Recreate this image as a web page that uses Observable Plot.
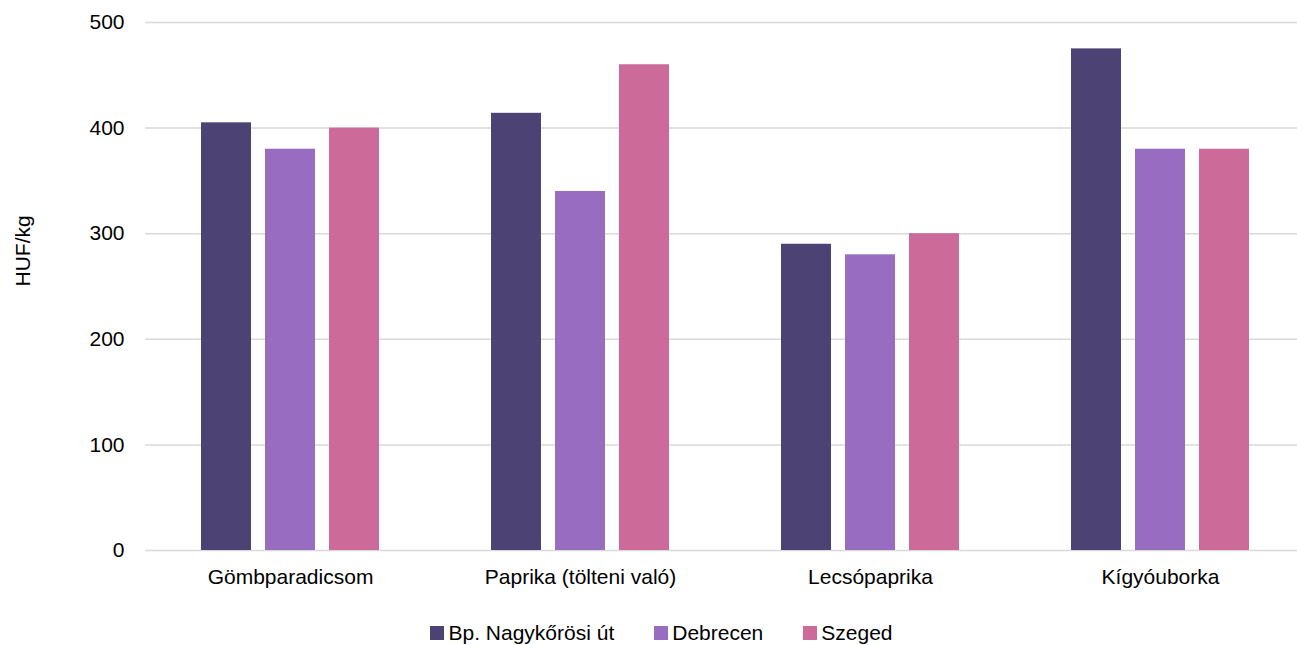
<!DOCTYPE html>
<html><head><meta charset="utf-8">
<script src="https://cdn.jsdelivr.net/npm/d3@7"></script>
<script src="https://cdn.jsdelivr.net/npm/@observablehq/plot@0.6"></script>
<style>
body{margin:0;background:#fff;font-family:"Liberation Sans",Arial,sans-serif;overflow:hidden;}
#chart{width:1297px;overflow:hidden;}
#chart svg{max-width:none !important;display:block;}
#legend{display:flex;justify-content:center;font-size:21px;color:#000;margin-top:21px;padding-left:26px;line-height:24px}
#legend span.item{display:flex;align-items:center;margin:0 20px}
#legend span.sw{display:inline-block;width:14px;height:14px;margin-right:4px}
</style>
</head><body>
<div id="chart"></div>
<div id="legend"></div>
<script>
const categories = ["Gömbparadicsom", "Paprika (tölteni való)", "Lecsópaprika", "Kígyóuborka"];
const series = ["Bp. Nagykőrösi út", "Debrecen", "Szeged"];
const colors = ["#4c4274", "#976cc1", "#cc6a9a"];
const bpValues = [405, 414, 290, 475];
const debrecenValues = [380, 340, 280, 380];
const szegedValues = [400, 460, 300, 380];
const yTicks = [0, 100, 200, 300, 400, 500];

const valuesBySeries = [bpValues, debrecenValues, szegedValues];
const data = [];
categories.forEach((c, i) => series.forEach((s, j) => data.push({category: c, series: s, value: valuesBySeries[j][i]})));

const chart = Plot.plot({
  width: 1306,
  height: 600,
  marginLeft: 144,
  marginRight: 0,
  marginTop: 22,
  marginBottom: 50,
  style: {fontSize: "21px", fontFamily: "Liberation Sans, Arial, sans-serif", color: "#000"},
  fx: {domain: categories, padding: 0, label: null},
  x: {domain: series, paddingInner: 0.225, paddingOuter: 0.864, axis: null},
  y: {domain: [0, 500], ticks: yTicks, label: null},
  color: {domain: series, range: colors},
  marks: [
    Plot.gridY(yTicks, {stroke: "#d9d9d9", strokeOpacity: 1, strokeWidth: 1.5}),
    Plot.axisFx({anchor: "bottom", tickSize: 0, tickPadding: 19, label: null, fontSize: 21}),
    Plot.axisY(yTicks, {tickSize: 0, tickPadding: 21, label: null, fontSize: 21}),
    Plot.barY(data, {fx: "category", x: "series", y: "value", fill: "series"}),
    Plot.text(["HUF/kg"], {fx: [categories[0]], frameAnchor: "left", dx: -122, rotate: -90, fontSize: 21})
  ]
});
document.getElementById("chart").appendChild(chart);

const legend = document.getElementById("legend");
series.forEach((s, i) => {
  const item = document.createElement("span");
  item.className = "item";
  const sw = document.createElement("span");
  sw.className = "sw";
  sw.style.background = colors[i];
  item.appendChild(sw);
  item.appendChild(document.createTextNode(s));
  legend.appendChild(item);
});
</script>
</body></html>
